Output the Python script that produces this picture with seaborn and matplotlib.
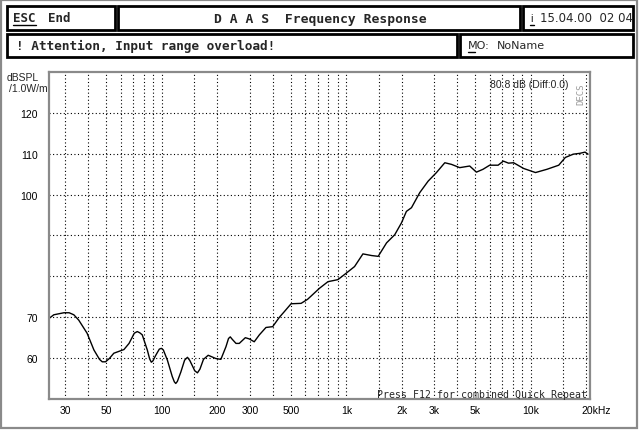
import matplotlib
matplotlib.use("Agg")
import matplotlib.pyplot as plt
import matplotlib.transforms as mtransforms
from matplotlib.patches import Rectangle
from matplotlib.ticker import FixedLocator, NullFormatter
import seaborn as sns
import pandas as pd

# ---- data ----
freq_hz = [24.5, 26, 29.5, 31.5, 33.4, 35.5, 39.4, 42.9, 46, 47.6, 49.6, 52, 55, 62.4, 66.5,
           71, 73.7, 76, 78.4, 83.5, 86, 87.8, 89.5, 92.8, 97, 99.5, 102, 107.3, 114, 117, 119.1,
           121.5, 126.9, 133, 137.8, 142, 151, 156.1, 161, 168.3, 178.5, 196.4,
           209.1, 222.8, 230, 235.1, 241, 252.5, 263, 283.7, 298, 317, 338, 367, 399, 434, 462, 502,
           569, 617, 716, 795, 900, 1000, 1108, 1230, 1369, 1488, 1652, 1830, 1990, 2116,
           2254, 2500, 2775, 3078, 3416, 3713, 4115, 4660, 5066, 5502, 5980, 6643, 7090,
           7560, 8060, 9130, 10590, 12220, 14150, 15370, 16970, 18420, 19640, 20400]
spl_db = [69.7, 70.6, 71.1, 71.1, 70.6, 69.3, 66.1, 62.0, 59.7, 59.1, 59.1, 59.9, 61.2, 62.1, 63.6,
          66.1, 66.5, 66.2, 65.7, 62.0, 59.8, 59.0, 59.3, 60.7, 62.2, 62.4, 62.0, 59.5, 55.5, 54.2, 53.8,
          54.3, 56.6, 59.5, 60.2, 59.4, 56.9, 56.4, 57.3, 59.7, 60.7, 59.9,
          59.7, 62.8, 64.8, 65.2, 64.6, 63.6, 63.6, 65.0, 64.7, 64.0, 65.7, 67.5, 67.7, 70.0, 71.4, 73.3,
          73.4, 74.4, 77.1, 78.7, 79.2, 80.8, 82.4, 85.5, 85.1, 84.9, 88.2, 90.2, 93.1, 95.9,
          96.8, 100.5, 103.3, 105.4, 107.8, 107.4, 106.6, 107.0, 105.5, 106.2, 107.2, 107.2, 108.2,
          107.7, 107.8, 106.4, 105.4, 106.2, 107.2, 109.1, 109.9, 110.1, 110.4, 109.9]

x_ticks = [30, 50, 100, 200, 300, 500, 1000, 2000, 3000, 5000, 10000, 20000]
x_tick_labels = ["30", "50", "100", "200", "300", "500", "1k", "2k", "3k", "5k", "10k", "20kHz"]
x_grid_minor = [40, 60, 70, 80, 90, 150, 400, 600, 700, 800, 900, 1500,
                4000, 6000, 7000, 8000, 9000, 15000]
y_ticks = [60, 70, 80, 90, 100, 110, 120]
y_tick_labels = ["60", "70", "", "", "100", "110", "120"]

df = pd.DataFrame({"freq": freq_hz, "spl": spl_db})

sns.set_style("white")
plt.rcParams["font.family"] = ["DejaVu Sans"]

W, H = 640, 431
fig = plt.figure(figsize=(W / 100, H / 100), dpi=100)

def fx(px):
    return px / W

def fy(py):
    return 1 - py / H

ax_l, ax_r, ax_t, ax_b = 49, 590, 73, 400
ax = fig.add_axes([fx(ax_l), fy(ax_b), (ax_r - ax_l) / W, (ax_b - ax_t) / H])

sns.lineplot(data=df, x="freq", y="spl", ax=ax, color="black", linewidth=1.0,
             estimator=None, sort=False)
ax.set_xscale("log")
ax.set_xlim(24.5, 20900)
ax.set_ylim(50, 130)
ax.set_xlabel("")
ax.set_ylabel("")

ax.set_xticks(x_ticks)
ax.set_xticklabels(x_tick_labels)
ax.xaxis.set_minor_locator(FixedLocator(x_grid_minor))
ax.xaxis.set_minor_formatter(NullFormatter())
ax.set_yticks(y_ticks)
ax.set_yticklabels(y_tick_labels)

grid_kw = dict(color="black", linestyle=(0, (1, 2.2)), linewidth=0.8)
ax.grid(True, which="both", axis="x", **grid_kw)
ax.grid(True, which="major", axis="y", **grid_kw)

ax.tick_params(axis="both", which="both", length=0)
ax.tick_params(axis="x", pad=4)
ax.tick_params(axis="y", pad=8)
for lbl in ax.get_xticklabels() + ax.get_yticklabels():
    lbl.set_fontfamily("Liberation Sans")
    lbl.set_fontsize(7.5)
    lbl.set_color("black")

last = ax.get_xticklabels()[-1]
last.set_horizontalalignment("left")
last.set_transform(last.get_transform() + mtransforms.ScaledTranslation(-5 / 100, 0, fig.dpi_scale_trans))

for sp in ax.spines.values():
    sp.set_color("#8a8a8a")
    sp.set_linewidth(1.6)
    sp.set_visible(True)

# ---- outer frame ----
fig.patches.append(Rectangle((fx(1), fy(429)), (637 - 1) / W, (429 - 1) / H,
                             transform=fig.transFigure, fill=False,
                             edgecolor="#8a8a8a", linewidth=1.6))

# ---- header boxes ----
boxes = [(7, 7, 115, 31), (118, 7, 520, 31), (523, 7, 633, 31),
         (7, 35, 457, 58), (460, 35, 633, 58)]
for (x0, y0, x1, y1) in boxes:
    fig.patches.append(Rectangle((fx(x0), fy(y1)), (x1 - x0) / W, (y1 - y0) / H,
                                 transform=fig.transFigure, fill=False,
                                 edgecolor="black", linewidth=2.0))

mono = "DejaVu Sans Mono"
fig.text(fx(13), fy(19), "ESC", family=mono, weight="bold", fontsize=9, va="center", ha="left")
fig.add_artist(plt.Line2D([fx(13), fx(36)], [fy(26), fy(26)], color="black", linewidth=1.0))
fig.text(fx(48), fy(19), "End", family=mono, weight="bold", fontsize=9, va="center", ha="left")
fig.text(fx(320), fy(19), "D A A S  Frequency Response", family=mono, weight="bold",
         fontsize=9.4, va="center", ha="center")
fig.text(fx(530), fy(19), "i", family="Liberation Sans", fontsize=8, va="center", ha="left")
fig.add_artist(plt.Line2D([fx(530), fx(534)], [fy(26), fy(26)], color="black", linewidth=1.0))
fig.text(fx(540), fy(19), "15.04.00  02 04", family="Liberation Sans Narrow", fontsize=8.5,
         va="center", ha="left")
fig.text(fx(16), fy(46), "! Attention, Input range overload!", family=mono, weight="bold",
         fontsize=9.2, va="center", ha="left")
fig.text(fx(468), fy(46), "MO:", family="Liberation Sans Narrow", fontsize=8, va="center", ha="left")
fig.add_artist(plt.Line2D([fx(468), fx(475)], [fy(53), fy(53)], color="black", linewidth=1.0))
fig.text(fx(497), fy(46), "NoName", family="Liberation Sans Narrow", fontsize=8,
         va="center", ha="left")

# ---- axis unit label ----
fig.text(fx(39), fy(78), "dBSPL", family="Liberation Sans", fontsize=7.5, va="center", ha="right")
fig.text(fx(48), fy(89), "/1.0W/m", family="Liberation Sans", fontsize=7.5, va="center", ha="right")

# ---- readouts inside the plot ----
fig.text(fx(568), fy(85), "80.8 dB (Diff:0.0)", family="Liberation Sans", fontsize=7.5,
         va="center", ha="right")
fig.text(fx(581), fy(94), "DECS", family=mono, fontsize=6.5, color="#9a9a9a",
         rotation=90, va="center", ha="center")
fig.text(fx(587), fy(395), "Press F12 for combined Quick Repeat", family=mono, fontsize=7.1,
         va="center", ha="right")

fig.savefig("out.png", dpi=100)
